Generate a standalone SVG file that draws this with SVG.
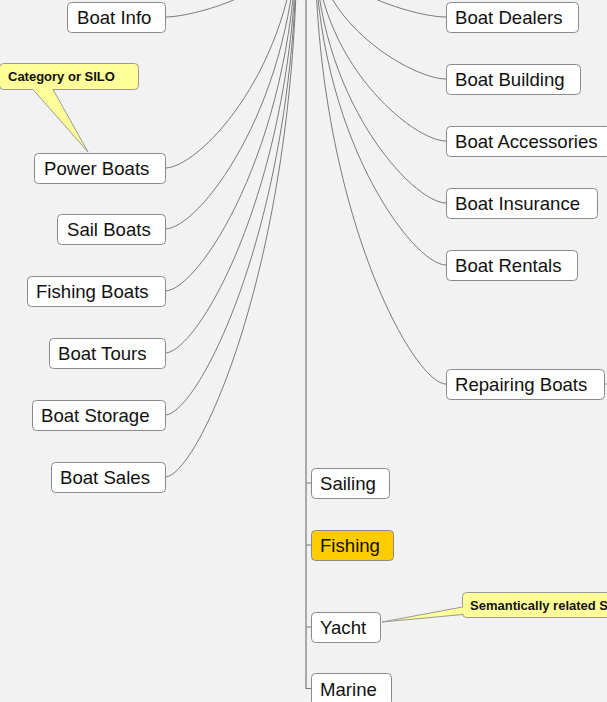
<svg xmlns="http://www.w3.org/2000/svg" width="607" height="702" viewBox="0 0 607 702">
<style>
.node rect{fill:#fff;stroke:#8a8a8a;stroke-width:1}
.node text{font-family:"Liberation Sans",Arial,sans-serif;font-size:18.6px;fill:#111}
#connectors path{fill:none;stroke:#7a7a7a;stroke-width:1}
.callout path{fill:#ffff99;stroke:#999;stroke-width:1}
.callout text{font-family:"Liberation Sans",Arial,sans-serif;font-size:13px;font-weight:bold;fill:#111}
</style>
<rect width="607" height="702" fill="#f2f2f2"/>
<g id="connectors">
<path d="M297 -60 C297 -14 198 17 165 17"/>
<path d="M297 -60 C286 77 198 168 165 168"/>
<path d="M297 -60 C289 113 198 229 165 229"/>
<path d="M297 -60 C291 151 198 291 165 291"/>
<path d="M297 -60 C293 188 198 353 165 353"/>
<path d="M297 -60 C295 225 198 415 165 415"/>
<path d="M297 -60 C296 262 198 477 165 477"/>
<path d="M315 -60 C315 -14 413 17 446 17"/>
<path d="M315 -60 C315 23 413 79 446 79"/>
<path d="M315 -60 C315 61 413 141 446 141"/>
<path d="M315 -60 C315 98 413 203 446 203"/>
<path d="M315 -60 C315 135 413 265 446 265"/>
<path d="M315 -60 C315 206 413 384 446 384"/>
<path d="M604 384 H607"/>
<path d="M306 -60 V688.5 H311" style="stroke-width:1.2"/>
<path d="M306 483 H311"/>
<path d="M306 545 H311"/>
<path d="M306 627 H311"/>
</g>
<g id="boat-info" class="node"><rect x="67.5" y="2.5" width="98" height="30" rx="4"/><text x="77" y="24">Boat Info</text></g>
<g id="power-boats" class="node"><rect x="34.5" y="153.5" width="131" height="30" rx="4"/><text x="44" y="175">Power Boats</text></g>
<g id="sail-boats" class="node"><rect x="57.5" y="214.5" width="108" height="30" rx="4"/><text x="67" y="236">Sail Boats</text></g>
<g id="fishing-boats" class="node"><rect x="27.5" y="276.5" width="138" height="30" rx="4"/><text x="36" y="298">Fishing Boats</text></g>
<g id="boat-tours" class="node"><rect x="49.5" y="338.5" width="116" height="30" rx="4"/><text x="58" y="360">Boat Tours</text></g>
<g id="boat-storage" class="node"><rect x="32.5" y="400.5" width="133" height="30" rx="4"/><text x="41" y="422">Boat Storage</text></g>
<g id="boat-sales" class="node"><rect x="51.5" y="462.5" width="114" height="30" rx="4"/><text x="60" y="484">Boat Sales</text></g>
<g id="boat-dealers" class="node"><rect x="446.5" y="2.5" width="132" height="30" rx="4"/><text x="455" y="24">Boat Dealers</text></g>
<g id="boat-building" class="node"><rect x="446.5" y="64.5" width="134" height="30" rx="4"/><text x="455" y="86">Boat Building</text></g>
<g id="boat-accessories" class="node"><rect x="446.5" y="126.5" width="164" height="30" rx="4"/><text x="455" y="148">Boat Accessories</text></g>
<g id="boat-insurance" class="node"><rect x="446.5" y="188.5" width="151" height="30" rx="4"/><text x="455" y="210">Boat Insurance</text></g>
<g id="boat-rentals" class="node"><rect x="446.5" y="250.5" width="131" height="30" rx="4"/><text x="455" y="272">Boat Rentals</text></g>
<g id="repairing-boats" class="node"><rect x="446.5" y="369.5" width="158" height="30" rx="4"/><text x="455" y="391">Repairing Boats</text></g>
<g id="sailing" class="node"><rect x="311.5" y="468.5" width="78" height="30" rx="4"/><text x="320" y="490">Sailing</text></g>
<g id="fishing" class="node"><rect x="311.5" y="530.5" width="82" height="30" rx="4" style="fill:#ffcc00"/><text x="320" y="552">Fishing</text></g>
<g id="yacht" class="node"><rect x="311.5" y="612.5" width="69" height="30" rx="4"/><text x="320" y="634">Yacht</text></g>
<g id="marine" class="node"><rect x="311.5" y="673.5" width="80" height="32" rx="4"/><text x="320" y="696">Marine</text></g>
<g id="callout-category" class="callout">
<path d="M3.5 63.5 H134.5 Q138.5 63.5 138.5 67.5 V85.5 Q138.5 89.5 134.5 89.5 H53 L88 152 L33 89.5 H3.5 Q-0.5 89.5 -0.5 85.5 V67.5 Q-0.5 63.5 3.5 63.5 Z"/>
<text x="8" y="81">Category or SILO</text>
</g>
<g id="callout-semantic" class="callout">
<path d="M466.5 592.5 H620 V617.5 H466.5 Q462.5 617.5 462.5 613.5 V614.5 L382 622 L462.5 607 V596.5 Q462.5 592.5 466.5 592.5 Z"/>
<text x="470" y="610">Semantically related S</text>
</g>
</svg>
